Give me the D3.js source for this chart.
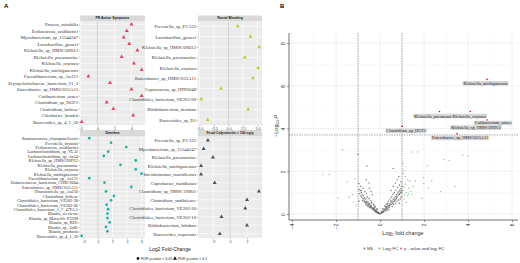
<!DOCTYPE html>
<html><head><meta charset="utf-8">
<script src="https://cdn.jsdelivr.net/npm/d3@7"></script>
<style>body{margin:0;background:#fff}svg{display:block}</style>
</head><body><svg id="c" width="520" height="263"></svg>
<script>
// ---------------- DATA ----------------
const prTaxa = ["Proteus_mirabilis","Pediococcus_acidilactici","Mycobacterium_sp_15544247","Lactobacillus_gasseri","Klebsiella_sp_HMSC09D12","Klebsiella_pneumoniae","Klebsiella_oxytoca","Klebsiella_michiganensis","Faecalibacterium_sp_An121","Erysipelotrichaceae_bacterium_21_3","Enterobacter_sp_HMSC055A11","Cutibacterium_acnes","Clostridium_sp_HGF2","Clostridium_bolteae","Citrobacter_braakii","Bacteroides_sp_4_1_36"];
const prLfc = [4.0, 3.45, 3.1, 3.75, 4.7, 2.85, 4.3, 5.2, -1.07, 1.48, 4.0, 5.2, 1.1, 1.87, 4.2, -1.85];

const rbTaxa = ["Prevotella_sp_P3-122","Lactobacillus_gasseri","Klebsiella_sp_HMSC09D12","Klebsiella_pneumoniae","Klebsiella_oxytoca","Enterobacter_sp_HMSC055A11","Coprococcus_sp_HPP0048","Clostridiales_bacterium_VE202-09","Bifidobacterium_dentium","Bacteroides_sp_D1"];
const rbLfc = [1.6, 3.8, 5.3, 2.8, 5.1, 4.2, -1.3, -4.7, 3.4, -3.6];

const dTaxa = ["Ruminococcus_champanellensis","Prevotella_bryantii","Pediococcus_acidilactici","Lachnoclostridium_sp_YL32","Lachnoclostridium_sp_An14","Klebsiella_sp_HMSC09D12","Klebsiella_pneumoniae","Klebsiella_oxytoca","Klebsiella_michiganensis","Faecalibacterium_sp_An121","Eubacteriaceae_bacterium_CHKCI004","Enterobacter_sp_HMSC055A11","Drancourtella_sp_An210","Clostridium_bolteae","Clostridiales_bacterium_VE202-28","Clostridiales_bacterium_VE202-06","Clostridiales_bacterium_1_7_47FAA","Blautia_wexlerae","Blautia_sp_Marseille-P2398","Blautia_sp_KH1","Blautia_sp_An81","Blautia_producta","Bacteroides_sp_4_1_36"];
const dLfc = [-1.2, 1.8, 3.9, 1.4, 0.8, 5.2, 3.1, 5.2, 6.0, -1.2, 0.9, 4.6, 1.1, 2.2, 1.8, 1.2, 1.4, 1.3, 1.3, 1.6, 1.1, 1.3, -2.25];

const fcTaxa = ["Prevotella_sp_P3-122","Mycobacterium_sp_15544247","Klebsiella_pneumoniae","Klebsiella_michiganensis","Intestinimonas_massiliensis","Coprobacter_fastidiosus","Clostridium_sp_HMSC19B01","Clostridium_sardiniense","Clostridiales_bacterium_VE202-26","Clostridiales_bacterium_VE202-16","Bifidobacterium_bifidum","Bacteroides_coprosuis"];
const fcLfc = [-2.6, -3.1, -2.0, -3.4, -3.4, -1.8, 3.4, 2.0, 1.8, -1.0, 2.0, -1.2];

const prTicks = [-2, 0, 2, 4];
const rbTicks = [-5, -2.5, 0, 2.5, 5];
const dTicks = [-2, 0, 2, 4, 6];
const fcTicks = [-2, 0, 2];

// volcano: [log2FC, -log10 P]
const volcPoints = [
[-0.05,0.03],[-0.1,0.08],[-0.15,0.12],[-0.2,0.18],[-0.25,0.22],[-0.3,0.28],[-0.35,0.3],[-0.4,0.38],[-0.45,0.42],[-0.5,0.5],[-0.55,0.55],[-0.6,0.6],[-0.65,0.7],[-0.7,0.75],[-0.75,0.85],[-0.8,0.9],[-0.85,1.0],[-0.9,1.1],[-0.95,1.15],
[-0.12,0.2],[-0.22,0.35],[-0.3,0.45],[-0.38,0.55],[-0.42,0.62],[-0.5,0.72],[-0.58,0.8],[-0.62,0.95],[-0.7,1.05],[-0.78,1.2],[-0.88,1.3],[-0.55,0.35],[-0.65,0.45],[-0.72,0.55],[-0.8,0.62],[-0.2,0.1],[-0.33,0.2],[-0.48,0.3],[-0.6,0.4],
[-0.08,0.05],[-0.18,0.15],[-0.28,0.25],[-0.43,0.35],[-0.52,0.45],[-0.68,0.6],[-0.4,0.5],[-0.27,0.4],
[-1.7,3.0],[-1.0,2.8],[-0.6,2.25],[-2.6,1.85],[-2.3,1.85],[-1.5,1.5],[-1.15,1.65],[-1.9,0.75],[-1.4,0.8],[-1.25,0.9],[-1.2,0.55],[-0.86,1.1],[-0.97,1.43],[-0.5,1.45],[-0.48,1.2],[-1.1,0.4],[-0.95,0.6],[-0.35,0.9],[-0.62,1.6],[-0.4,1.05],
[0.05,0.05],[0.1,0.1],[0.15,0.15],[0.2,0.2],[0.25,0.25],[0.3,0.3],[0.35,0.35],[0.4,0.42],[0.45,0.48],[0.5,0.55],[0.55,0.6],[0.6,0.68],[0.65,0.75],[0.7,0.82],[0.75,0.9],[0.8,0.98],[0.85,1.05],[0.9,1.12],[0.95,1.2],[1.0,1.3],
[0.12,0.25],[0.22,0.38],[0.3,0.48],[0.38,0.6],[0.45,0.7],[0.52,0.8],[0.58,0.92],[0.65,1.0],[0.72,1.1],[0.8,1.25],[0.88,1.35],[0.95,1.5],[0.5,1.1],[0.6,1.3],[0.7,1.45],[0.78,1.6],[0.85,1.75],[0.4,0.2],[0.55,0.35],[0.7,0.5],[0.85,0.65],[0.95,0.8],[0.3,0.15],[0.62,0.45],[0.78,0.6],
[0.08,0.12],[0.18,0.22],[0.28,0.35],[0.35,0.5],[0.42,0.32],[0.48,0.62],[0.68,0.62],[0.75,0.75],[0.9,0.95],[0.92,0.7],[0.98,1.0],[0.88,0.5],
[1.05,1.1],[1.1,1.25],[1.15,1.4],[1.2,1.0],[1.25,0.85],[1.3,1.2],[1.35,1.55],[1.1,0.7],[1.2,0.55],[1.4,1.05],[1.5,1.3],[1.45,0.9],[1.6,1.55],[1.9,0.73],[1.98,1.43],[1.98,1.7],[2.35,1.55],[2.2,1.23],[2.75,1.05],[3.4,1.28],[1.45,2.9],[1.7,2.9],[3.75,2.75],[4.0,2.7],[2.9,2.55],[3.15,2.5],[2.14,2.25],[1.03,2.37],[0.6,2.13],[1.05,1.9],[1.15,1.75],[1.25,1.6],[1.08,2.05],[1.3,0.95],[1.12,0.9],
[-0.03,0.01],[0.03,0.02],[-0.07,0.04],[0.07,0.06],[-0.12,0.06],[0.12,0.07],[-0.16,0.09],[0.17,0.1],[-0.22,0.13],[0.22,0.14],[-0.26,0.16],[0.27,0.2],[-0.32,0.22],[0.32,0.24],[-0.37,0.26],[0.37,0.28],[-0.42,0.3],[0.43,0.38],[-0.46,0.36],[0.47,0.42],[-0.53,0.4],[0.53,0.46],[-0.57,0.48],[0.57,0.52],[-0.62,0.52],[0.63,0.58],[-0.67,0.56],[0.67,0.66],[-0.73,0.65],[0.73,0.7],[-0.77,0.72],[0.77,0.8],[-0.83,0.78],[0.83,0.88],[0.87,0.92],[0.93,1.02],[0.97,1.1],[-0.88,0.85],[-0.93,0.95],[0.25,0.33],[0.33,0.42],[-0.15,0.25],[-0.24,0.3]
];
const sigTaxa = ["Klebsiella_michiganensis","Klebsiella_pneumoniae","Klebsiella_oxytoca","Cutibacterium_acnes","Klebsiella_sp_HMSC09D12","Clostridium_sp_HGF2","Enterobacter_sp_HMSC055A11"];
const sigLfc = [4.86, 2.7, 4.1, 4.86, 4.4, 1.0, 3.5];
const sigLogP = [6.3, 4.8, 4.8, 4.4, 4.2, 4.1, 3.75];
const fcCut = 1, pCut = 3.7;
const volcXTicks = [-4, -2, 0, 2, 4, 6];
const volcYTicks = [0, 2, 4, 6, 8];

// ---------------- DRAW ----------------
const svg = d3.select("#c");
const SANS = "'Liberation Sans', Arial, sans-serif";
const SERIF = "'Liberation Serif', 'Times New Roman', serif";

svg.append("text").attr("x", 4).attr("y", 8).text("A").attr("font-family", SANS).attr("font-weight", "bold").attr("font-size", 6);
svg.append("text").attr("x", 280).attr("y", 8).text("B").attr("font-family", SANS).attr("font-weight", "bold").attr("font-size", 6);

const facets = [
  {title: "PR Active Symptoms", taxa: prTaxa, lfc: prLfc, ticks: prTicks, fmt: d3.format("d"), color: "#e2455c", shape: d3.symbolTriangle,
   x0: 80, x1: 145, y0: 21, y1: 125, s0: 15.5, dom: [-2.05, 5.6], fs: 4.7},
  {title: "Rectal Bleeding", taxa: rbTaxa, lfc: rbLfc, ticks: rbTicks, fmt: d3.format(".1f"), color: "#bfcf33", shape: d3.symbolTriangle,
   x0: 198, x1: 262, y0: 21, y1: 125, s0: 15.5, dom: [-5.26, 5.78], fs: 4.7},
  {title: "Diarrhea", taxa: dTaxa, lfc: dLfc, ticks: dTicks, fmt: d3.format("d"), color: "#1fb3a6", shape: d3.symbolCircle,
   x0: 80, x1: 145, y0: 136, y1: 238, s0: 130, dom: [-2.48, 6.48], fs: 4.3},
  {title: "Fecal Calprotectin > 100 ug/g", taxa: fcTaxa, lfc: fcLfc, ticks: fcTicks, fmt: d3.format("d"), color: "#4e4d66", shape: d3.symbolTriangle,
   x0: 198, x1: 262, y0: 136, y1: 238, s0: 130, dom: [-3.76, 3.76], fs: 4.7}
];

facets.forEach(f => {
  const g = svg.append("g");
  const x = d3.scaleLinear().domain(f.dom).range([f.x0, f.x1]);
  const y = d3.scalePoint().domain(f.taxa).range([f.y0, f.y1]).padding(0.5);
  g.append("rect").attr("x", f.x0).attr("y", f.y0).attr("width", f.x1 - f.x0).attr("height", f.y1 - f.y0).attr("fill", "#ebebeb");
  const step = f.ticks[1] - f.ticks[0];
  const minor = [];
  for (let t = f.ticks[0] - step / 2; t <= f.dom[1]; t += step) if (t >= f.dom[0]) minor.push(t);
  g.selectAll(null).data(minor).join("line")
    .attr("x1", d => x(d)).attr("x2", d => x(d)).attr("y1", f.y0).attr("y2", f.y1)
    .attr("stroke", "#f6f6f6").attr("stroke-width", 0.3);
  g.selectAll(null).data(f.ticks).join("line")
    .attr("x1", d => x(d)).attr("x2", d => x(d)).attr("y1", f.y0).attr("y2", f.y1)
    .attr("stroke", "#fff").attr("stroke-width", 0.6);
  g.selectAll(null).data(f.taxa).join("line")
    .attr("x1", f.x0).attr("x2", f.x1).attr("y1", d => y(d)).attr("y2", d => y(d))
    .attr("stroke", "#fff").attr("stroke-width", 0.6);
  g.append("line").attr("x1", x(0)).attr("x2", x(0)).attr("y1", f.y0).attr("y2", f.y1)
    .attr("stroke", "#b8b8b8").attr("stroke-width", 0.6);
  const sym = d3.symbol().type(f.shape).size(f.shape === d3.symbolCircle ? 6 : 7);
  g.selectAll(null).data(f.taxa).join("path")
    .attr("d", sym)
    .attr("transform", (d, i) => `translate(${x(f.lfc[i])},${y(d)})`)
    .attr("fill", f.color);
  const ya = g.append("g").attr("transform", `translate(${f.x0},0)`).call(d3.axisLeft(y).tickSize(1.2).tickPadding(0.8));
  ya.select(".domain").remove();
  ya.selectAll(".tick line").attr("stroke", "#555").attr("stroke-width", 0.4);
  ya.selectAll(".tick text").attr("font-family", SERIF).attr("font-size", f.fs).attr("fill", "#333");
  const xa = g.append("g").attr("transform", `translate(0,${f.y1})`).call(d3.axisBottom(x).tickValues(f.ticks).tickFormat(f.fmt).tickSize(1.2).tickPadding(0.8));
  xa.select(".domain").remove();
  xa.selectAll(".tick line").attr("stroke", "#555").attr("stroke-width", 0.4);
  xa.selectAll(".tick text").attr("font-family", SANS).attr("font-size", 3.6).attr("fill", "#444");
  g.append("rect").attr("x", f.x0).attr("y", f.s0).attr("width", f.x1 - f.x0).attr("height", f.y0 - f.s0).attr("fill", "#d9d9d9");
  g.append("text").attr("x", (f.x0 + f.x1) / 2).attr("y", (f.s0 + f.y0) / 2).attr("dy", "0.35em")
    .attr("text-anchor", "middle").attr("font-family", SANS).attr("font-weight", "bold").attr("font-size", 3.4)
    .attr("fill", "#1a1a1a").text(f.title);
});

svg.append("text").attr("x", 170).attr("y", 251).attr("text-anchor", "middle").attr("font-family", SANS)
  .attr("font-size", 5).attr("fill", "#222").text("Log2 Fold-Change");
const legA = svg.append("g").attr("font-family", SANS).attr("font-size", 3.6).attr("fill", "#222");
legA.append("path").attr("d", d3.symbol().type(d3.symbolCircle).size(6)).attr("transform", "translate(138,258.5)").attr("fill", "#111");
legA.append("text").attr("x", 141).attr("y", 258.5).attr("dy", "0.35em").text("FDR p-value < 0.05");
legA.append("path").attr("d", d3.symbol().type(d3.symbolTriangle).size(7)).attr("transform", "translate(175,258.5)").attr("fill", "#111");
legA.append("text").attr("x", 178).attr("y", 258.5).attr("dy", "0.35em").text("FDR p-value < 0.1");

// ---------------- VOLCANO ----------------
const vx = d3.scaleLinear().domain([-4.14, 6.27]).range([289, 518]);
const vy = d3.scaleLinear().domain([-0.28, 8.47]).range([220, 33]);
const vg = svg.append("g");
const xMinor = [-3, -1, 1, 3, 5], yMinor = [1, 3, 5, 7];
vg.selectAll(null).data(xMinor).join("line").attr("x1", d => vx(d)).attr("x2", d => vx(d)).attr("y1", 33).attr("y2", 220).attr("stroke", "#f1f1f1").attr("stroke-width", 0.4);
vg.selectAll(null).data(yMinor).join("line").attr("y1", d => vy(d)).attr("y2", d => vy(d)).attr("x1", 289).attr("x2", 518).attr("stroke", "#f1f1f1").attr("stroke-width", 0.4);
vg.selectAll(null).data(volcXTicks).join("line").attr("x1", d => vx(d)).attr("x2", d => vx(d)).attr("y1", 33).attr("y2", 220).attr("stroke", "#e3e3e3").attr("stroke-width", 0.5);
vg.selectAll(null).data(volcYTicks).join("line").attr("y1", d => vy(d)).attr("y2", d => vy(d)).attr("x1", 289).attr("x2", 518).attr("stroke", "#e3e3e3").attr("stroke-width", 0.5);
[-fcCut, fcCut].forEach(c => vg.append("line").attr("x1", vx(c)).attr("x2", vx(c)).attr("y1", 33).attr("y2", 220)
  .attr("stroke", "#555").attr("stroke-width", 0.5).attr("stroke-dasharray", "1.5,1"));
vg.append("line").attr("x1", 289).attr("x2", 518).attr("y1", vy(pCut)).attr("y2", vy(pCut))
  .attr("stroke", "#555").attr("stroke-width", 0.5).attr("stroke-dasharray", "1.5,1");
const ptColor = d => (Math.abs(d[0]) > fcCut ? (d[1] > pCut ? "#e00000" : "#2e9b2e") : "#3a3a3a");
vg.selectAll(null).data(volcPoints).join("circle")
  .attr("cx", d => vx(d[0])).attr("cy", d => vy(d[1])).attr("r", 0.8)
  .attr("fill", ptColor).attr("fill-opacity", d => Math.abs(d[0]) > fcCut ? 0.45 : 0.6);
vg.selectAll(null).data(sigTaxa).join("circle")
  .attr("cx", (d, i) => vx(sigLfc[i])).attr("cy", (d, i) => vy(sigLogP[i])).attr("r", 0.8).attr("fill", "#e00000");
const nudge = {
  "Klebsiella_michiganensis": [-1.5, 3.8], "Klebsiella_pneumoniae": [-5, 4.6], "Klebsiella_oxytoca": [-1, 4.6],
  "Cutibacterium_acnes": [6, 3], "Klebsiella_sp_HMSC09D12": [-1, 3.4], "Clostridium_sp_HGF2": [4, 4.5],
  "Enterobacter_sp_HMSC055A11": [3, 4]
};
sigTaxa.forEach((d, i) => {
  const cx = vx(sigLfc[i]) + nudge[d][0], cy = vy(sigLogP[i]) + nudge[d][1];
  const lg = vg.append("g");
  const t = lg.append("text").attr("x", cx).attr("y", cy).attr("dy", "0.35em").attr("text-anchor", "middle")
    .attr("font-family", SERIF).attr("font-size", 4.3).attr("fill", "#222").text(d);
  const w = t.node().getComputedTextLength();
  lg.insert("rect", "text").attr("x", cx - w / 2 - 1).attr("y", cy - 2.3).attr("width", w + 2).attr("height", 4.6)
    .attr("fill", "#d6d6d6").attr("rx", 0.5);
});
vg.append("line").attr("x1", 289).attr("x2", 289).attr("y1", 33).attr("y2", 220).attr("stroke", "#333").attr("stroke-width", 0.7);
vg.append("line").attr("x1", 289).attr("x2", 518).attr("y1", 220).attr("y2", 220).attr("stroke", "#333").attr("stroke-width", 0.7);
const yax = vg.append("g").attr("transform", "translate(289,0)").call(d3.axisLeft(vy).tickValues(volcYTicks).tickFormat(d3.format("d")).tickSize(2));
yax.select(".domain").remove();
yax.selectAll(".tick line").attr("stroke", "#333").attr("stroke-width", 0.5);
yax.selectAll(".tick text").attr("transform", "rotate(-90)").attr("x", 0).attr("y", -4).attr("dy", 0)
  .attr("text-anchor", "middle").attr("font-family", SANS).attr("font-size", 5).attr("fill", "#333");
const xax = vg.append("g").attr("transform", "translate(0,220)").call(d3.axisBottom(vx).tickValues(volcXTicks).tickFormat(d3.format("d")).tickSize(2));
xax.select(".domain").remove();
xax.selectAll(".tick line").attr("stroke", "#333").attr("stroke-width", 0.5);
xax.selectAll(".tick text").attr("transform", "rotate(-90)").attr("x", -3.5).attr("y", 0).attr("dy", "0.35em")
  .attr("text-anchor", "end").attr("font-family", SANS).attr("font-size", 5).attr("fill", "#333");
const xt = vg.append("text").attr("x", 403).attr("y", 235).attr("text-anchor", "middle").attr("font-family", SANS).attr("font-size", 5.5).attr("fill", "#333");
xt.append("tspan").text("Log");
xt.append("tspan").attr("font-size", 3.8).attr("dy", 1.4).text("2");
xt.append("tspan").attr("dy", -1.4).text(" fold change");
const yt = vg.append("text").attr("transform", "translate(278,126) rotate(-90)").attr("text-anchor", "middle").attr("font-family", SANS).attr("font-size", 5.5).attr("fill", "#333");
yt.append("tspan").text("\u2212Log");
yt.append("tspan").attr("font-size", 3.8).attr("dy", 1.4).text("10");
yt.append("tspan").attr("dy", -1.4).attr("font-style", "italic").text(" P");
const legB = vg.append("g").attr("font-family", SANS).attr("font-size", 4.3).attr("fill", "#333");
const legItems = [["NS", "#3a3a3a", 364.5, 367], ["Log2 FC", "#2e9b2e", 379.5, 382.5], ["p - value and log2 FC", "#e00000", 401, 404]];
legItems.forEach(it => {
  legB.append("circle").attr("cx", it[2]).attr("cy", 248.5).attr("r", 0.9).attr("fill", it[1]).attr("fill-opacity", 0.7);
  const tx = legB.append("text").attr("x", it[3]).attr("y", 248.5).attr("dy", "0.35em");
  if (it[0] === "Log2 FC") {
    tx.append("tspan").text("Log"); tx.append("tspan").attr("font-size", 3).attr("dy", 1).text("2"); tx.append("tspan").attr("dy", -1).text(" FC");
  } else if (it[0] === "p - value and log2 FC") {
    tx.append("tspan").attr("font-style", "italic").text("p"); tx.append("tspan").text(" - value and log");
    tx.append("tspan").attr("font-size", 3).attr("dy", 1).text("2"); tx.append("tspan").attr("dy", -1).text(" FC");
  } else tx.text(it[0]);
});
</script>
</body></html>
